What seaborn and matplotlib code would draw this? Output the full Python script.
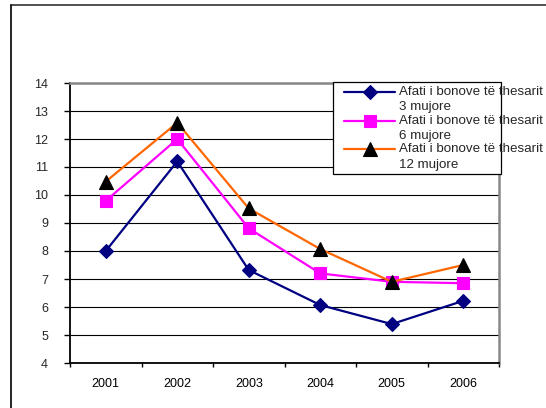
import matplotlib
matplotlib.use("Agg")
import matplotlib.pyplot as plt
from matplotlib.lines import Line2D
from matplotlib.patches import Rectangle
import pandas as pd
import seaborn as sns

# Treasury bill yields (%) by maturity
years = ["2001", "2002", "2003", "2004", "2005", "2006"]
yield_3m = [8.0, 11.2, 7.32, 6.07, 5.39, 6.22]
yield_6m = [9.79, 12.0, 8.81, 7.2, 6.9, 6.85]
yield_12m = [10.48, 12.58, 9.52, 8.07, 6.9, 7.5]

labels = [
    "Afati i bonove të thesarit\n3 mujore",
    "Afati i bonove të thesarit\n6 mujore",
    "Afati i bonove të thesarit\n12 mujore",
]
y_ticks = list(range(4, 15))

sns.set_style("white")
plt.rcParams["font.family"] = ["Liberation Sans", "DejaVu Sans"]
plt.rcParams["font.size"] = 9

W, H = 546, 408
fig = plt.figure(figsize=(W / 100, H / 100), dpi=100)


def fx(px):
    return px / W


def fy(py):
    return 1 - py / H


ax = fig.add_axes([fx(70), fy(363), fx(499) - fx(70), fy(83) - fy(363)])

df = pd.DataFrame({"year": years, "m3": yield_3m, "m6": yield_6m, "m12": yield_12m})

series = [
    dict(y="m3", color="#000080", marker="D", ms=6.8, mfc="#000080", mec="#000080"),
    dict(y="m6", color="#FF00FF", marker="s", ms=9.3, mfc="#FF00FF", mec="#FF00FF"),
    dict(y="m12", color="#FF6600", marker="^", ms=9.5, mfc="black", mec="black"),
]

for s in series:
    sns.lineplot(
        data=df, x="year", y=s["y"], ax=ax, color=s["color"], lw=1.6,
        marker=s["marker"], markersize=s["ms"], markerfacecolor=s["mfc"],
        markeredgecolor=s["mec"], markeredgewidth=0.8, legend=False, sort=False,
        zorder=3,
    )

ax.set_xlim(-0.5, len(years) - 0.5)
ax.set_ylim(4, 14)
ax.set_yticks(y_ticks)
ax.set_yticklabels([str(v) for v in y_ticks])
ax.set_xticks(range(len(years)))
ax.set_xticklabels(years)
ax.set_xticks([i - 0.5 for i in range(len(years) + 1)], minor=True)
ax.set_xlabel("")
ax.set_ylabel("")

ax.tick_params(axis="x", which="major", length=0, pad=11, labelsize=9, colors="black")
ax.tick_params(axis="x", which="minor", length=3, width=1, color="black", direction="out",
               bottom=True)
ax.tick_params(axis="y", length=4.3, width=1, color="black", pad=11.5, labelsize=9,
               left=True, direction="out")

ax.yaxis.grid(True, color="black", lw=0.8)
ax.xaxis.grid(False)
ax.set_axisbelow(True)

for side in ("left", "bottom"):
    ax.spines[side].set_color("black")
    ax.spines[side].set_linewidth(1.3)
for side in ("top", "right"):
    ax.spines[side].set_color("#888888")
    ax.spines[side].set_linewidth(1.8)

# Legend box drawn at figure level so the labels can run past its edge
fig.add_artist(Rectangle((fx(333), fy(174)), fx(501) - fx(333), fy(82) - fy(174),
                         transform=fig.transFigure, facecolor="white",
                         edgecolor="black", lw=0.9, zorder=5))
handle_y = [91.5, 120.5, 149.0]
for s, hy, lab in zip(series, handle_y, labels):
    fig.add_artist(Line2D([fx(344), fx(395)], [fy(hy), fy(hy)], transform=fig.transFigure,
                          color=s["color"], lw=1.6, zorder=6))
    fig.add_artist(Line2D([fx(370)], [fy(hy)], transform=fig.transFigure, ls="none",
                          marker=s["marker"], ms=s["ms"], mfc=s["mfc"], mec=s["mec"],
                          mew=0.8, zorder=7))
    fig.text(fx(399), fy(hy + 8), lab, fontsize=9.6, va="center", ha="left",
             linespacing=1.4, zorder=8)

# Outer frame
fig.add_artist(Line2D([fx(11), 1], [fy(5), fy(5)], transform=fig.transFigure,
                      color="#333333", lw=1.2))
fig.add_artist(Line2D([fx(11), fx(11)], [fy(5), 0], transform=fig.transFigure,
                      color="black", lw=1.2))

fig.savefig("out.png", dpi=100)
